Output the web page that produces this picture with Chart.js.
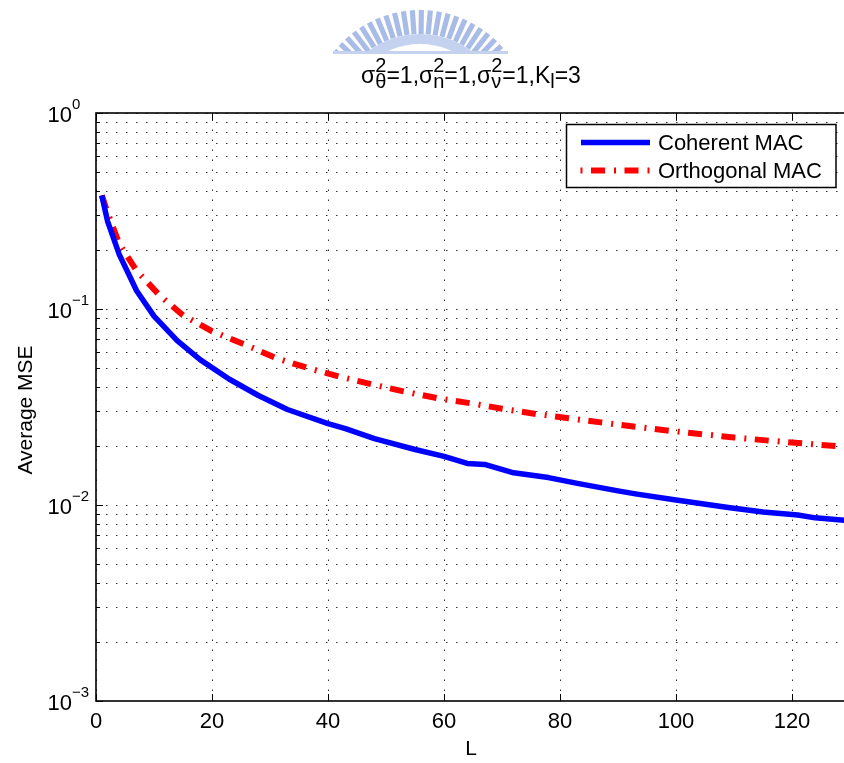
<!DOCTYPE html>
<html>
<head>
<meta charset="utf-8">
<script src="https://cdn.jsdelivr.net/npm/chart.js@4/dist/chart.umd.min.js"></script>
<style>
  html, body { margin: 0; padding: 0; overflow: hidden; background: #fff; }
  canvas { display: block; }
</style>
</head>
<body>
<canvas id="mseChart" width="880" height="763" style="width:880px;height:763px"></canvas>
<script>
// values
const lCoherent = [1, 2, 4, 7, 10, 14, 18, 23, 28, 33, 40, 43, 48, 55, 60, 64, 67, 72, 78, 83, 90, 93, 100, 103, 109, 115, 121, 124, 130];
const mseCoherent = [0.38, 0.28, 0.19, 0.124, 0.092, 0.069, 0.055, 0.0438, 0.0362, 0.0307, 0.026, 0.0245, 0.0218, 0.0192, 0.0177, 0.0163, 0.0161, 0.0146, 0.0138, 0.0129, 0.0118, 0.0114, 0.0106, 0.0103, 0.0097, 0.0092, 0.0089, 0.0086, 0.0083];

const lOrthogonal = [1, 2, 4, 7, 11, 15, 20, 26, 31, 37, 42, 48, 53, 59, 65, 70, 76, 82, 87, 93, 99, 105, 110, 116, 122, 130];
const mseOrthogonal = [0.38, 0.31, 0.215, 0.157, 0.117, 0.093, 0.077, 0.0653, 0.0562, 0.0495, 0.0452, 0.041, 0.038, 0.035, 0.0329, 0.031, 0.0291, 0.0276, 0.0264, 0.0251, 0.0239, 0.0229, 0.0221, 0.0213, 0.0206, 0.0197];

const seriesNames = ['Coherent MAC', 'Orthogonal MAC'];
const xTicks = [0, 20, 40, 60, 80, 100, 120];
const yExponents = [-3, -2, -1, 0];
const minorSteps = [2, 3, 4, 5, 6, 7, 8, 9];

const FONT = '"Liberation Sans", Arial, sans-serif';
const redDash = [14, 9, 2, 8.5];

function toPoints(xs, ys) {
    return xs.map((x, i) => ({ x: x, y: ys[i] }));
}

// faded logo at the top of the page
function drawWatermark(ctx) {
    ctx.save();
    ctx.beginPath();
    ctx.rect(320, 0, 200, 54);
    ctx.clip();
    const cx = 420, cy = 120;
    ctx.fillStyle = '#a9bce8';
    for (let a = -141; a <= -38; a += 4.7) {
        ctx.save();
        ctx.translate(cx, cy);
        ctx.rotate((a + 90) * Math.PI / 180);
        ctx.fillRect(-2.6, -110, 5.2, 24);
        ctx.restore();
    }
    ctx.beginPath();
    ctx.arc(cx, cy, 86, 0, Math.PI * 2);
    ctx.arc(cx, cy, 76, 0, Math.PI * 2, true);
    ctx.fillStyle = '#c4d1ef';
    ctx.fill();
    ctx.restore();
    ctx.fillStyle = '#c4d1ef';
    ctx.fillRect(333, 51, 175, 3);
}

function drawTitle(ctx) {
    const parts = [
        { t: 'σ', sup: '2', sub: 'θ' }, { t: '=1,' },
        { t: 'σ', sup: '2', sub: 'n' }, { t: '=1,' },
        { t: 'σ', sup: '2', sub: 'ν' }, { t: '=1,K', sub: 'l' },
        { t: '=3' }
    ];
    const mainFont = '23px ' + FONT, smallFont = '20px ' + FONT;
    let total = 0;
    const widths = parts.map(p => {
        ctx.font = mainFont;
        const w = ctx.measureText(p.t).width;
        ctx.font = smallFont;
        const ws = Math.max(p.sup ? ctx.measureText(p.sup).width : 0, p.sub ? ctx.measureText(p.sub).width : 0);
        total += w + ws;
        return [w, ws];
    });
    let x = 471 - total / 2;
    const base = 83;
    ctx.fillStyle = '#000';
    ctx.textAlign = 'left';
    ctx.textBaseline = 'alphabetic';
    parts.forEach((p, i) => {
        ctx.font = mainFont;
        ctx.fillText(p.t, x, base);
        x += widths[i][0];
        ctx.font = smallFont;
        if (p.sup) ctx.fillText(p.sup, x, base - 11);
        if (p.sub) ctx.fillText(p.sub, x, base + 5);
        x += widths[i][1];
    });
}

const gridPlugin = {
    id: 'matlabGrid',
    beforeDatasetsDraw(chart) {
        const { ctx, chartArea: a, scales } = chart;
        ctx.save();
        ctx.beginPath();
        ctx.rect(a.left, a.top, a.right - a.left, a.bottom - a.top);
        ctx.clip();
        ctx.strokeStyle = 'rgba(0,0,0,0.8)';
        ctx.lineWidth = 1;
        ctx.setLineDash([1.5, 8.5]);
        xTicks.forEach(v => {
            const px = Math.round(scales.x.getPixelForValue(v)) + 0.5;
            ctx.beginPath();
            ctx.moveTo(px, a.bottom);
            ctx.lineTo(px, a.top);
            ctx.stroke();
        });
        yExponents.forEach(e => {
            const vals = [Math.pow(10, e)];
            if (e < 0) minorSteps.forEach(m => vals.push(m * Math.pow(10, e)));
            vals.forEach(v => {
                const py = Math.round(scales.y.getPixelForValue(v)) + 0.5;
                ctx.beginPath();
                ctx.moveTo(a.left, py);
                ctx.lineTo(a.right, py);
                ctx.stroke();
            });
        });
        ctx.restore();
    },
    afterDatasetsDraw(chart) {
        const { ctx, chartArea: a, scales } = chart;
        ctx.save();
        // box
        ctx.strokeStyle = '#000';
        ctx.lineWidth = 1.6;
        ctx.strokeRect(a.left, a.top, a.right - a.left, a.bottom - a.top);
        ctx.lineWidth = 1;
        // x ticks (inward, bottom and top)
        xTicks.forEach(v => {
            const px = Math.round(scales.x.getPixelForValue(v)) + 0.5;
            ctx.beginPath();
            ctx.moveTo(px, a.bottom);
            ctx.lineTo(px, a.bottom - 7);
            ctx.moveTo(px, a.top);
            ctx.lineTo(px, a.top + 7);
            ctx.stroke();
        });
        // y ticks
        yExponents.forEach(e => {
            const dec = Math.pow(10, e);
            let py = Math.round(scales.y.getPixelForValue(dec)) + 0.5;
            ctx.beginPath();
            ctx.moveTo(a.left, py);
            ctx.lineTo(a.left + 7, py);
            ctx.stroke();
            if (e < 0) {
                minorSteps.forEach(m => {
                    py = Math.round(scales.y.getPixelForValue(m * dec)) + 0.5;
                    ctx.beginPath();
                    ctx.moveTo(a.left, py);
                    ctx.lineTo(a.left + 4, py);
                    ctx.stroke();
                });
            }
        });
        // tick labels
        ctx.fillStyle = '#000';
        ctx.font = '22px ' + FONT;
        ctx.textAlign = 'center';
        ctx.textBaseline = 'alphabetic';
        xTicks.forEach(v => {
            ctx.fillText(String(v), scales.x.getPixelForValue(v), 728);
        });
        yExponents.forEach(e => {
            const py = scales.y.getPixelForValue(Math.pow(10, e));
            ctx.font = '22px ' + FONT;
            ctx.textAlign = 'right';
            ctx.fillText('10', 72, py + 8.5);
            ctx.font = '15px ' + FONT;
            ctx.textAlign = 'left';
            ctx.fillText(e === 0 ? '0' : '\u2212' + Math.abs(e), 72, py - 4);
        });
        // axis labels
        ctx.font = '21px ' + FONT;
        ctx.textAlign = 'center';
        ctx.fillText('L', 471, 755);
        ctx.save();
        ctx.translate(32, 410);
        ctx.rotate(-Math.PI / 2);
        ctx.fillText('Average MSE', 0, 0);
        ctx.restore();

        // legend
        const lx = 566.5, ly = 124.5, lw = 269.5, lh = 63;
        ctx.fillStyle = '#fff';
        ctx.fillRect(lx, ly, lw, lh);
        ctx.strokeStyle = '#000';
        ctx.lineWidth = 1.5;
        ctx.strokeRect(lx, ly, lw, lh);
        const rows = [142.5, 170.5];
        ctx.lineWidth = 5.5;
        ctx.lineCap = 'butt';
        ctx.strokeStyle = '#0000ff';
        ctx.beginPath();
        ctx.moveTo(581, rows[0]);
        ctx.lineTo(650, rows[0]);
        ctx.stroke();
        ctx.strokeStyle = '#ff0000';
        ctx.lineWidth = 6;
        ctx.setLineDash([2, 8.5, 14, 9]);
        ctx.beginPath();
        ctx.moveTo(580.5, rows[1]);
        ctx.lineTo(650, rows[1]);
        ctx.stroke();
        ctx.setLineDash([]);
        ctx.fillStyle = '#000';
        ctx.font = '22px ' + FONT;
        ctx.textAlign = 'left';
        ctx.textBaseline = 'middle';
        seriesNames.forEach((n, i) => ctx.fillText(n, 658, rows[i] + 1));
        ctx.restore();

        ctx.save();
        drawTitle(ctx);
        drawWatermark(ctx);
        ctx.restore();
    }
};

const ctx = document.getElementById('mseChart').getContext('2d');
const chart = new Chart(ctx, {
    type: 'line',
    data: {
        datasets: [{
            label: seriesNames[0],
            data: toPoints(lCoherent, mseCoherent),
            borderColor: '#0000ff',
            borderWidth: 5.5,
            borderJoinStyle: 'round',
            pointRadius: 0,
            tension: 0
        }, {
            label: seriesNames[1],
            data: toPoints(lOrthogonal, mseOrthogonal),
            borderColor: '#ff0000',
            borderWidth: 6,
            borderDash: redDash,
            borderCapStyle: 'butt',
            pointRadius: 0,
            tension: 0
        }]
    },
    options: {
        responsive: false,
        animation: false,
        devicePixelRatio: 1,
        layout: { padding: { left: 96, top: 113, right: 30, bottom: 62 } },
        plugins: {
            legend: { display: false },
            title: { display: false },
            tooltip: { enabled: false }
        },
        scales: {
            x: { type: 'linear', min: 0, max: 130, display: false },
            y: { type: 'logarithmic', min: 0.001, max: 1, display: false }
        }
    },
    plugins: [gridPlugin]
});
</script>
</body>
</html>
